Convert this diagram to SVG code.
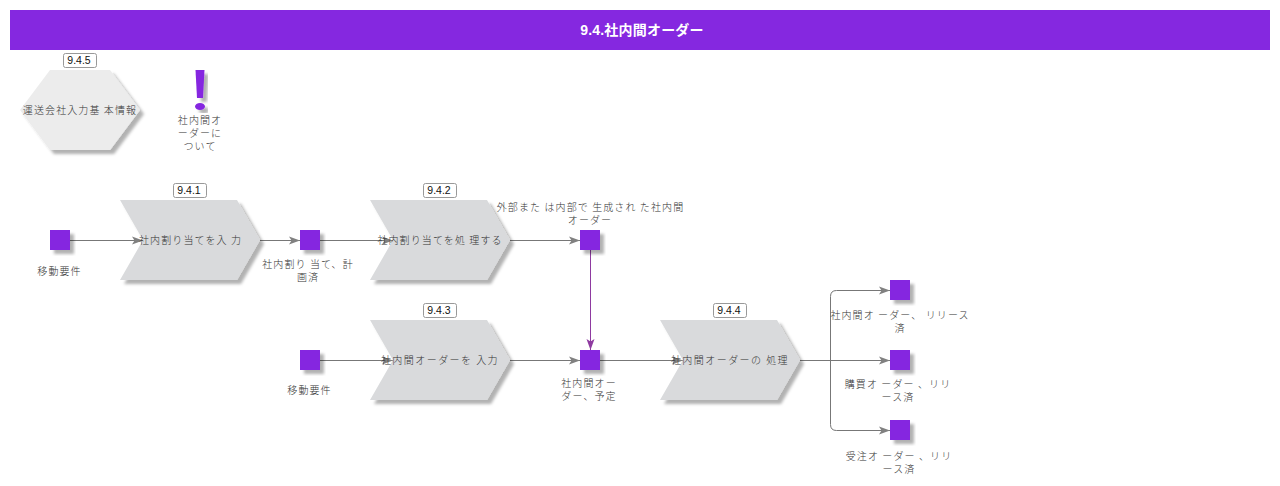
<svg xmlns="http://www.w3.org/2000/svg" width="1280" height="486" viewBox="0 0 1280 486">
<style>
text{font-family:"Liberation Sans","Noto Sans CJK JP",sans-serif}
.t{font-size:10px;fill:#333;text-anchor:middle;letter-spacing:1.1px;font-family:"Noto Sans CJK JP",sans-serif;font-weight:300}
.w{letter-spacing:1.45px}
.e{fill:#8528e0;filter:url(#s)}
.f{fill:#d9dadc;filter:url(#s)}
.b{fill:#fff;stroke:#999;stroke-width:1}
.n{font-size:10.500px;fill:#111;text-anchor:middle}
.c{fill:none;stroke:#777;stroke-width:1;marker-end:url(#a)}
.p{fill:none;stroke:#8e3aa0;stroke-width:1;marker-end:url(#ap)}
</style>
<defs>
<filter id="s" x="-20%" y="-20%" width="150%" height="150%"><feDropShadow dx="4" dy="4" stdDeviation="1.8" flood-color="#000" flood-opacity=".3"/></filter>
<marker id="a" markerUnits="userSpaceOnUse" markerWidth="13" markerHeight="10" refX="11" refY="5" orient="auto"><path d="M0 1L11 5L0 9L2.500 5Z" fill="#808080"/></marker>
<marker id="ap" markerUnits="userSpaceOnUse" markerWidth="13" markerHeight="10" refX="11" refY="5" orient="auto"><path d="M0 1L11 5L0 9L2.500 5Z" fill="#8e3aa0"/></marker>
</defs>
<g id="title"><rect x="10" y="10" width="1260" height="40" fill="#8528e0"/><text x="642" y="35" font-size="14" font-weight="700" fill="#fff" text-anchor="middle" letter-spacing=".2">9.4.社内間オーダー</text></g>
<g id="n945"><path d="M50 70H110L140 110L110 150H50L20 110Z" fill="#ececec" filter="url(#s)"/><rect class="b" x="63.500" y="53.500" width="33" height="14" rx="2"/><text class="n" x="79" y="63.500">9.4.5</text><text class="t" x="80" y="114">運送会社入力基 本情報</text></g>
<g id="note"><path d="M195.500 70H204.500L203 98H197Z" class="e"/><ellipse class="e" cx="200" cy="106.500" rx="5" ry="3.500"/><text class="t" x="200" y="124">社内間オ</text><text class="t" x="200" y="137">ーダーに</text><text class="t" x="200" y="150">ついて</text></g>
<g id="connectors" transform="translate(0 .5)">
<path class="c" d="M70 240H143"/><path class="c" d="M260 240H300"/><path class="c" d="M320 240H393"/><path class="c" d="M510 240H580"/>
<path class="p" d="M590.500 249.500V349.500"/>
<path class="c" d="M320 360H393"/><path class="c" d="M510 360H580"/><path class="c" d="M600 360H683"/>
<path class="c" d="M800 360H890"/><path class="c" d="M830.500 360V296Q830.500 290 836.500 290H890"/><path class="c" d="M830.500 360V424Q830.500 430 836.500 430H890"/>
</g>
<g id="n941"><path class="f" d="M120 200H237L260 240L237 280H120L143 240Z"/><rect class="b" x="173.500" y="183.500" width="33" height="14" rx="2"/><text class="n" x="189" y="193.500">9.4.1</text><text class="t" x="190.500" y="244">社内割り当てを入 力</text></g>
<g id="n942"><path class="f" d="M370 200H487L510 240L487 280H370L393 240Z"/><rect class="b" x="423.500" y="183.500" width="33" height="14" rx="2"/><text class="n" x="439" y="193.500">9.4.2</text><text class="t" x="440" y="244">社内割り当てを処 理する</text></g>
<g id="n943"><path class="f" d="M370 320H487L510 360L487 400H370L393 360Z"/><rect class="b" x="423.500" y="303.500" width="33" height="14" rx="2"/><text class="n" x="439" y="313.500">9.4.3</text><text class="t w" x="440" y="364">社内間オーダーを 入力</text></g>
<g id="n944"><path class="f" d="M660 320H777L800 360L777 400H660L683 360Z"/><rect class="b" x="713.500" y="303.500" width="33" height="14" rx="2"/><text class="n" x="729" y="313.500">9.4.4</text><text class="t w" x="730" y="364">社内間オーダーの 処理</text></g>
<g id="e1"><rect class="e" x="50" y="230" width="20" height="20"/><text class="t" x="59.500" y="275">移動要件</text></g>
<g id="e2"><rect class="e" x="300" y="230" width="20" height="20"/><text class="t" x="308" y="268">社内割り 当て、計</text><text class="t" x="308" y="281">画済</text></g>
<g id="e3"><rect class="e" x="580" y="230" width="20" height="20"/><text class="t" x="590.500" y="211">外部また は内部で 生成され た社内間</text><text class="t" x="590" y="224">オーダー</text></g>
<g id="e4"><rect class="e" x="300" y="350" width="20" height="20"/><text class="t" x="309.500" y="394">移動要件</text></g>
<g id="e5"><rect class="e" x="580" y="350" width="20" height="20"/><text class="t" x="589" y="387">社内間オー</text><text class="t" x="589" y="400">ダー、予定</text></g>
<g id="e6"><rect class="e" x="890" y="280" width="20" height="20"/><text class="t" x="900" y="319">社内間オ ーダー、 リリース</text><text class="t" x="900" y="332">済</text></g>
<g id="e7"><rect class="e" x="890" y="350" width="20" height="20"/><text class="t" x="898" y="388">購買オ ーダー 、リリ</text><text class="t" x="898" y="401">ース済</text></g>
<g id="e8"><rect class="e" x="890" y="420" width="20" height="20"/><text class="t" x="899" y="460">受注オ ーダー 、リリ</text><text class="t" x="899" y="473">ース済</text></g>
</svg>
